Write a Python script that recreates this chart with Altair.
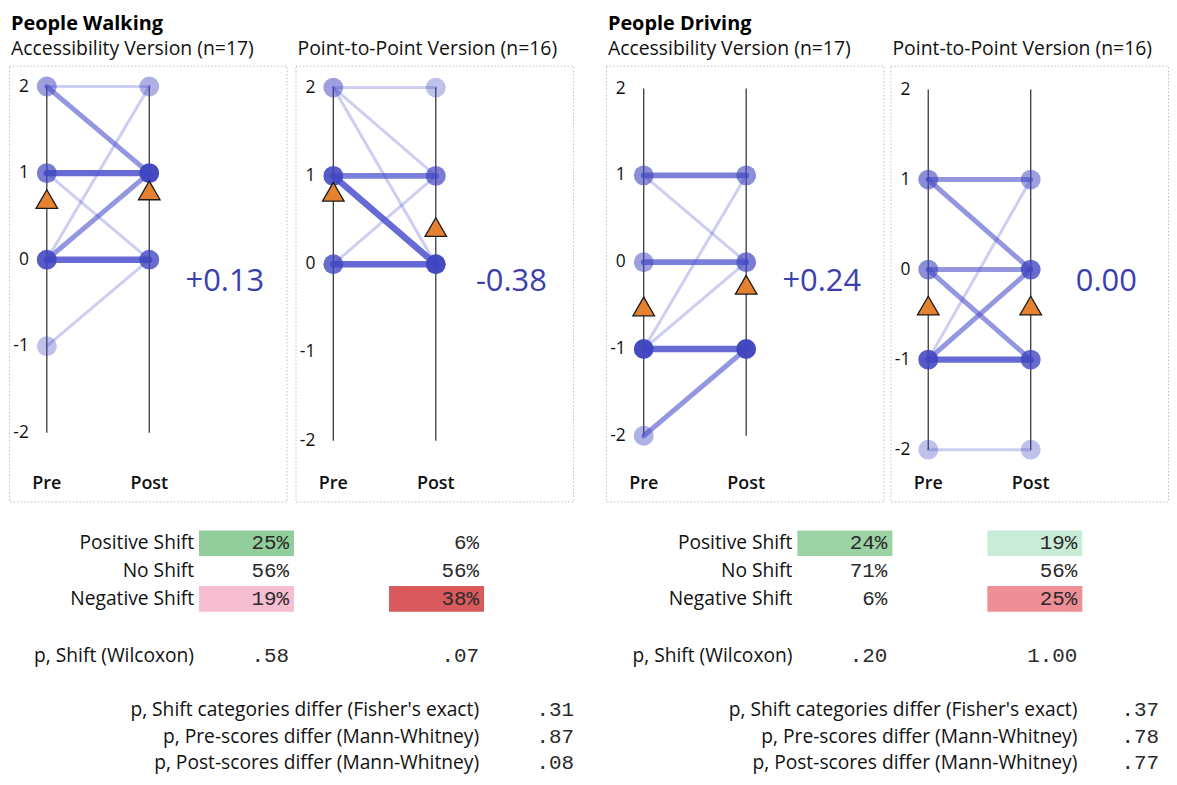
import altair as alt
import pandas as pd

# ------------------------------------------------------------------ data
levels = [2, 1, 0, -1, -2]
phases = ["Pre", "Post"]

group_titles = ["People Walking", " ", "People Driving", " "]
version_titles = ["Accessibility Version (n=17)", "Point-to-Point Version (n=16)",
                  "Accessibility Version (n=17)", "Point-to-Point Version (n=16)"]

# transitions: pre score -> post score, number of participants
wa_pre = [2, 2, 1, 1, 0, 0, 0, -1]
wa_post = [2, 1, 1, 0, 2, 1, 0, 0]
wa_n = [1, 2, 4, 1, 1, 2, 4, 1]

wp_pre = [2, 2, 2, 1, 1, 0, 0]
wp_post = [2, 1, 0, 1, 0, 1, 0]
wp_n = [1, 1, 1, 3, 4, 1, 5]

da_pre = [1, 1, 0, -1, -1, -1, -2]
da_post = [1, 0, 0, 1, 0, -1, -1]
da_n = [3, 1, 3, 1, 1, 6, 2]

dp_pre = [1, 1, 0, 0, -1, -1, -1, -2]
dp_post = [1, 0, 0, -1, 1, 0, -1, -2]
dp_n = [2, 2, 2, 2, 1, 2, 4, 1]

mean_pre = [0.70, 0.82, -0.51, -0.40]
mean_post = [0.80, 0.42, -0.26, -0.40]
mean_shift = ["+0.13", "-0.38", "+0.24", "0.00"]

shift_rows = ["Positive Shift", "No Shift", "Negative Shift"]
wilcoxon_label = "p, Shift (Wilcoxon)"
walk_acc_pct = [25, 56, 19]
walk_p2p_pct = [6, 56, 38]
drive_acc_pct = [24, 71, 6]
drive_p2p_pct = [19, 56, 25]
walk_wilcoxon = [".58", ".07"]
drive_wilcoxon = [".20", "1.00"]
between_labels = ["p, Shift categories differ (Fisher's exact)",
                  "p, Pre-scores differ (Mann-Whitney)",
                  "p, Post-scores differ (Mann-Whitney)"]
walk_between = [".31", ".87", ".08"]
drive_between = [".37", ".78", ".77"]
table_rows = [0, 1, 2, 4.05, 5.98, 6.94, 7.9]

# ------------------------------------------------------------------ style
FONT = "Open Sans"
MONO = "Liberation Mono"
DOT = "#4044bf"
LINE = "#4c50cc"
TRI = "#e4822f"
TXT = "#3b3fb0"
PW = 279  # panel width


def panel(i, pre, post, n, ydom):
    seg = pd.DataFrame({"pre": pre, "post": post, "n": n})
    seg["x0"] = phases.index("Pre")
    seg["x1"] = phases.index("Post")
    seg = seg.sort_values("n", kind="stable")
    p0 = seg.groupby("pre", as_index=False)["n"].sum().rename(columns={"pre": "score"})
    p0["x"] = 0
    p1 = seg.groupby("post", as_index=False)["n"].sum().rename(columns={"post": "score"})
    p1["x"] = 1
    pts = pd.concat([p0, p1]).sort_values("n", kind="stable")
    means = pd.DataFrame({"x": [0, 1], "score": [mean_pre[i], mean_post[i]]})
    axes_df = pd.DataFrame({"x": [0, 1], "top": [max(levels)] * 2,
                            "bottom": [min(levels)] * 2, "label": phases})
    ticks_df = pd.DataFrame({"score": levels, "label": [str(v) for v in levels]})
    shift_df = pd.DataFrame({"t": [mean_shift[i]]})

    X = alt.Scale(domain=[-0.369, 2.34], nice=False, zero=False)
    Y = alt.Scale(domain=ydom, nice=False, zero=False)

    rules = alt.Chart(axes_df).mark_rule(color="#3a3a3a", strokeWidth=1.3).encode(
        x=alt.X("x:Q", scale=X, axis=None),
        y=alt.Y("top:Q", scale=Y, axis=None), y2="bottom:Q")
    lines = alt.Chart(seg).mark_rule(color=LINE, strokeCap="round").encode(
        x=alt.X("x0:Q", scale=X, axis=None), x2="x1:Q",
        y=alt.Y("pre:Q", scale=Y, axis=None), y2="post:Q",
        strokeWidth=alt.StrokeWidth("n:Q", scale=alt.Scale(domain=[1, 2, 4], range=[3, 5, 6.5], clamp=True), legend=None),
        strokeOpacity=alt.StrokeOpacity("n:Q", scale=alt.Scale(domain=[1, 2, 4], range=[0.28, 0.6, 0.85], clamp=True), legend=None))
    dots = alt.Chart(pts).mark_circle(size=400, color=DOT).encode(
        x=alt.X("x:Q", scale=X, axis=None),
        y=alt.Y("score:Q", scale=Y, axis=None),
        opacity=alt.Opacity("n:Q", scale=alt.Scale(domain=[1, 8], range=[0.33, 0.97], clamp=True), legend=None))
    tri = alt.Chart(means).mark_point(shape="triangle-up", filled=True, fill=TRI, stroke="#1a1a1a",
                                      strokeWidth=1.3, size=470, opacity=1).encode(
        x=alt.X("x:Q", scale=X, axis=None),
        y=alt.Y("score:Q", scale=Y, axis=None))
    ticks = alt.Chart(ticks_df).mark_text(align="right", baseline="middle", fontSize=17.5,
                                          color="#111111", font=FONT).encode(
        x=alt.value(20), y=alt.Y("score:Q", scale=Y, axis=None), text="label:N")
    prepost = alt.Chart(axes_df).mark_text(baseline="middle", fontSize=18, fontWeight=600,
                                           color="#111111", font=FONT).encode(
        x=alt.X("x:Q", scale=X, axis=None), y=alt.value(420), text="label:N")
    shift = alt.Chart(shift_df).mark_text(baseline="middle", fontSize=31, color=TXT, font=FONT).encode(
        x=alt.value(217), y=alt.value(217), text="t:N")

    return alt.layer(rules, lines, dots, tri, ticks, prepost, shift).properties(
        width=PW, height=438,
        title=alt.TitleParams(text=group_titles[i], subtitle=version_titles[i], anchor="start",
                              fontSize=20, fontWeight="bold", font=FONT, color="#000000",
                              subtitleFontSize=19.5, subtitleFont=FONT, subtitleColor="#111111",
                              subtitlePadding=6, offset=7, dx=2),
        view=alt.ViewBackground(stroke="#bdbdbd", strokeDash=[1.5, 2], strokeWidth=1))


def table(pct_a, pct_b, wil, between, c0, cend):
    # columns (in column units): label ends at c0+1, cells [c0+1,c0+2] and [c0+3,c0+4],
    # lower p-values end at cend
    lab_rows, val_rows, cells = [], [], []
    for r, lab in enumerate(shift_rows):
        y = table_rows[r]
        lab_rows.append({"row": y, "xe": c0 + 1, "text": lab})
        val_rows.append({"row": y, "xe": c0 + 2, "text": f"{pct_a[r]}%"})
        val_rows.append({"row": y, "xe": c0 + 4, "text": f"{pct_b[r]}%"})
        if r != 1:
            sign = 1 if r == 0 else -1
            cells.append({"row": y, "xs": c0 + 1, "xe": c0 + 2, "v": sign * pct_a[r]})
            cells.append({"row": y, "xs": c0 + 3, "xe": c0 + 4, "v": sign * pct_b[r]})
    y = table_rows[3]
    lab_rows.append({"row": y, "xe": c0 + 1, "text": wilcoxon_label})
    val_rows.append({"row": y, "xe": c0 + 2, "text": wil[0]})
    val_rows.append({"row": y, "xe": c0 + 4, "text": wil[1]})
    for k, lab in enumerate(between_labels):
        y = table_rows[4 + k]
        lab_rows.append({"row": y, "xe": c0 + 4, "text": lab})
        val_rows.append({"row": y, "xe": cend, "text": between[k]})

    X = alt.Scale(domain=[0, cend], nice=False, zero=False)
    Y = alt.Scale(domain=[-0.786, 8.286], nice=False, zero=False, reverse=True)

    rect = alt.Chart(pd.DataFrame(cells)).transform_calculate(
        y0="datum.row - 0.46", y1="datum.row + 0.46").mark_rect().encode(
        x=alt.X("xs:Q", scale=X, axis=None), x2="xe:Q",
        y=alt.Y("y0:Q", scale=Y, axis=None), y2="y1:Q",
        fill=alt.Fill("v:Q", scale=alt.Scale(domain=[-38, -25, -19, -6, 6, 19, 25],
                                              range=["#d85a5d", "#ee8e96", "#f6bed0", "#ffffff",
                                                     "#ffffff", "#c9ecd8", "#92ce9b"],
                                              interpolate="rgb"), legend=None))
    labels = alt.Chart(pd.DataFrame(lab_rows)).mark_text(
        align="right", baseline="middle", dx=-5, fontSize=19.3, font=FONT, color="#111111").encode(
        x=alt.X("xe:Q", scale=X, axis=None), y=alt.Y("row:Q", scale=Y, axis=None), text="text:N")
    values = alt.Chart(pd.DataFrame(val_rows)).mark_text(
        align="right", baseline="middle", dx=-5, fontSize=21, font=MONO, color="#2a2a2a").encode(
        x=alt.X("xe:Q", scale=X, axis=None), y=alt.Y("row:Q", scale=Y, axis=None), text="text:N")
    return alt.layer(rect, labels, values).properties(
        width=round(cend * 95.5), height=254, view=alt.ViewBackground(strokeOpacity=0))


p1 = panel(0, wa_pre, wa_post, wa_n, [-2.793, 2.241])
p2 = panel(1, wp_pre, wp_post, wp_n, [-2.687, 2.248])
p3 = panel(2, da_pre, da_post, da_n, [-2.756, 2.264])
p4 = panel(3, dp_pre, dp_post, dp_n, [-2.575, 2.265])

top = alt.hconcat(alt.hconcat(p1, p2, spacing=7), alt.hconcat(p3, p4, spacing=5), spacing=31)

t_left = table(walk_acc_pct, walk_p2p_pct, walk_wilcoxon, walk_between, 1, 6)
t_right = table(drive_acc_pct, drive_p2p_pct, drive_wilcoxon, drive_between, 0, 4.86)
bottom = alt.hconcat(t_left, t_right, spacing=124, bounds="flush")

chart = alt.vconcat(top, bottom, spacing=19).properties(
    padding={"top": 4, "left": 0, "right": 0, "bottom": 0}).configure(font=FONT)

chart.save("out.html", embed_options={"renderer": "svg", "actions": False})
